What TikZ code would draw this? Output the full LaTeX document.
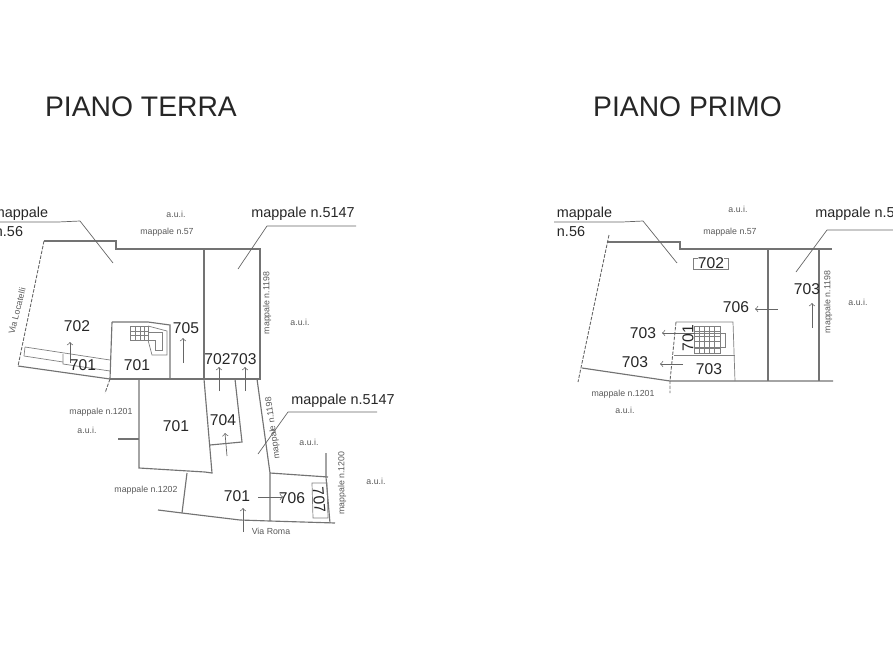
\documentclass[tikz,border=0pt]{standalone}
\usepackage{fontspec}
\setmainfont{Liberation Sans}
\tikzset{
	wall/.style={draw=black!55,line width=0.65pt},
	thinline/.style={draw=black!50,line width=0.4pt},
	cutline/.style={draw=black!60,line width=0.5pt,dash pattern=on 2pt off 0.8pt},
	leader/.style={draw=black!60,line width=0.4pt},
	udarrow/.style={draw=black!60,line width=0.4pt,->,>=to},
	title/.style={inner sep=0pt,font=\fontsize{16.1}{18}\selectfont,text=black!85},
	room/.style={inner sep=0pt,font=\fontsize{8.9}{10}\selectfont,text=black!85},
	mapname/.style={inner sep=0pt,font=\fontsize{8.2}{10}\selectfont,text=black!85},
	tiny/.style={inner sep=0pt,font=\fontsize{5}{6}\selectfont,text=black!65}
}
\begin{document}
\begin{tikzpicture}[x=0.02cm,y=0.02cm]
	\useasboundingbox (0,0) rectangle (893,-670);
	% piano terra
	\node [title] (titleterra) at (141,-107) {PIANO TERRA};
	\draw [wall] (44,-241) -- (116,-241) -- (116,-249) -- (260,-249) -- (260,-379) -- (110,-379);
	\draw [cutline] (44,-241) -- (18,-366);
	\draw [wall] (18,-366) -- (110,-379);
	\draw [cutline] (110,-379) -- (105,-393);
	\draw [wall] (204,-249) -- (204,-379);
	\draw [wall] (112,-322) -- (110,-379);
	\draw [wall] (112,-322) -- (148,-322) -- (170,-325) -- (170,-379);
	\draw [thinline] (25,-347) -- (110,-360);
	\draw [thinline] (24,-356) -- (63,-362);
	\draw [thinline] (63,-354) -- (63,-364) -- (110,-371);
	\draw [thinline] (25,-347) -- (24,-356);
	% scala terra
	\draw [thinline] (130,-326) rectangle (148,-340);
	\foreach \xx in {135,140,144} \draw [thinline] (\xx,-326) -- (\xx,-340);
	\foreach \yy in {-331,-335} \draw [thinline] (130,\yy) -- (148,\yy);
	\draw [thinline] (148,-332) -- (162,-332) -- (162,-350) -- (155,-350) -- (155,-340) -- (148,-340);
	\draw [thinline] (148,-326) -- (167,-331) -- (167,-355) -- (152,-355) -- (148,-340);
	\draw [udarrow] (70,-363) -- (70,-342);
	\draw [udarrow] (183,-363) -- (183,-338);
	\draw [udarrow] (219,-391) -- (219,-367);
	\draw [udarrow] (245,-391) -- (245,-367);
	\draw [wall] (139,-379) -- (139,-468) -- (205,-472) -- (212,-473) -- (204,-379);
	\draw [wall] (118,-439) -- (139,-439);
	\draw [wall] (235,-379) -- (242,-442) -- (210,-445);
	\draw [wall] (257,-379) -- (270,-473) -- (270,-521);
	\draw [wall] (270,-473) -- (328,-477);
	\draw [wall] (326,-453) -- (326,-477) -- (330,-523);
	\draw [wall] (158,-510) -- (182,-513) -- (240,-520) -- (270,-521) -- (335,-523);
	\draw [wall] (187,-473) -- (182,-513);
	\draw [thinline] (312,-483) -- (327,-483) -- (328,-518) -- (313,-518) -- cycle;
	\draw [udarrow] (243,-532) -- (243,-508);
	\draw [udarrow] (258,-497) -- (283,-497);
	\draw [udarrow] (227,-456) -- (225,-433);
	\draw [leader] (0,-222) -- (58,-222) -- (80,-221) -- (113,-263);
	\draw [leader] (356,-226) -- (267,-226) -- (238,-269);
	\draw [leader] (377,-412) -- (288,-412) -- (258,-454);
	\node [mapname] (mapa) at (20.5,-214) {mappale};
	\node [mapname] (mapb) at (9,-232) {n.56};
	\node [mapname] (mapc) at (303,-214) {mappale n.5147};
	\node [mapname] (mapd) at (343,-401) {mappale n.5147};
	\node [tiny] (auia) at (176,-214) {a.u.i.};
	\node [tiny] (n57a) at (167,-232) {mappale n.57};
	\node [tiny,rotate=90] (n1198a) at (267,-303) {mappale n.1198};
	\node [tiny,rotate=98] (n1198b) at (273,-428) {mappale n.1198};
	\node [tiny,rotate=90] (n1200) at (342,-483) {mappale n.1200};
	\node [tiny,rotate=76] (via) at (17,-311) {Via Locatelli};
	\node [tiny] (auib) at (300,-322) {a.u.i.};
	\node [tiny] (n1201a) at (101,-412) {mappale n.1201};
	\node [tiny] (auic) at (87,-430) {a.u.i.};
	\node [tiny] (n1202) at (146,-490) {mappale n.1202};
	\node [tiny] (auid) at (309,-442) {a.u.i.};
	\node [tiny] (auie) at (376,-481) {a.u.i.};
	\node [tiny] (roma) at (271,-531) {Via Roma};
	\node [room] (ra) at (77,-326) {702};
	\node [room] (rb) at (83,-365) {701};
	\node [room] (rc) at (137,-365) {701};
	\node [room] (rd) at (186,-328) {705};
	\node [room] (re) at (217.5,-359) {702};
	\node [room] (rf) at (243.5,-359) {703};
	\node [room] (rg) at (176,-426) {701};
	\node [room] (rh) at (223,-420) {704};
	\node [room] (ri) at (237,-496) {701};
	\node [room] (rj) at (292,-498) {706};
	\node [room,rotate=-85] (rk) at (319,-500) {707};
	% piano primo
	\node [title] (titleprimo) at (687.5,-107) {PIANO PRIMO};
	\draw [wall] (608,-242) -- (680,-242) -- (680,-249) -- (832,-249);
	\draw [cutline] (609,-235) -- (578,-382);
	\draw [wall] (582,-368) -- (670,-381) -- (833,-381);
	\draw [wall] (768,-249) -- (768,-381);
	\draw [wall] (819,-249) -- (819,-381);
	\draw [thinline] (676,-322) -- (733,-322) -- (735,-381);
	\draw [thinline] (674,-355) -- (735,-355);
	\draw [cutline] (676,-322) -- (670,-381) -- (670,-393);
	% scala primo
	\draw [thinline] (694,-326) rectangle (720,-353);
	\foreach \xx in {699,704,709,714} \draw [thinline] (\xx,-326) -- (\xx,-353);
	\foreach \yy in {-331,-336,-341,-348} \draw [thinline] (694,\yy) -- (720,\yy);
	\draw [thinline] (694,-333) -- (725,-333) -- (725,-347) -- (694,-347);
	\draw [thinline] (693,-258) rectangle (728,-269);
	\draw [udarrow] (778,-309) -- (755,-309);
	\draw [udarrow] (812,-328) -- (812,-303);
	\draw [udarrow] (695,-333) -- (662,-333);
	\draw [udarrow] (683,-364) -- (660,-364);
	\draw [leader] (554,-222) -- (622,-222) -- (643,-221) -- (677,-263);
	\draw [leader] (893,-230) -- (827,-230) -- (796,-272);
	\node [mapname] (mape) at (584.5,-214) {mappale};
	\node [mapname] (mapf) at (571,-232) {n.56};
	\node [mapname] (mapg) at (867,-214) {mappale n.5147};
	\node [tiny] (auif) at (738,-209) {a.u.i.};
	\node [tiny] (n57b) at (730,-232) {mappale n.57};
	\node [tiny,rotate=90] (n1198c) at (828,-302) {mappale n.1198};
	\node [tiny] (auig) at (858,-302) {a.u.i.};
	\node [tiny] (n1201b) at (623,-394) {mappale n.1201};
	\node [tiny] (auih) at (625,-410) {a.u.i.};
	\node [room,fill=white] (rl) at (711,-263) {702};
	\node [room] (rm) at (736,-307) {706};
	\node [room] (rn) at (807,-289) {703};
	\node [room] (ro) at (643,-333) {703};
	\node [room] (rp) at (635,-362) {703};
	\node [room] (rq) at (709,-369) {703};
	\node [room,rotate=90] (rr) at (688,-338) {701};
\end{tikzpicture}
\end{document}
